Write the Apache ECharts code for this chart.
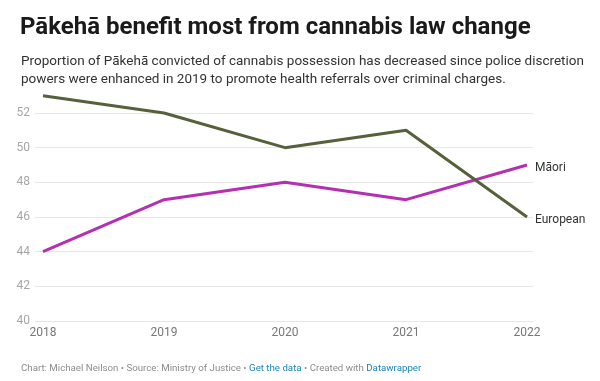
<!DOCTYPE html>
<html><head><meta charset="utf-8">
<script src="https://cdn.jsdelivr.net/npm/echarts@6/dist/echarts.min.js"></script>
<style>html,body{margin:0;padding:0;background:#fff}#c{width:600px;height:381px}</style>
</head><body><div id="c"></div>
<script>
const years = [2018, 2019, 2020, 2021, 2022];
const maori = [44, 47, 48, 47, 49];
const european = [53, 52, 50, 51, 46];
const yTicks = [40, 42, 44, 46, 48, 50, 52];
const seriesNames = ['Māori', 'European'];

const chart = echarts.init(document.getElementById('c'), null, {renderer: 'canvas'});
const font = 'Roboto, "Noto Sans", sans-serif';
const pair = (vals) => years.map((y, i) => [y, vals[i]]);
chart.setOption({
  animation: false,
  textStyle: {fontFamily: font},
  title: [
    {text: 'Pākehā benefit most from cannabis law change', left: 15, top: 11,
     textStyle: {fontFamily: font, fontSize: 24, fontWeight: 'bold', color: '#1a1a1a'}},
    {text: 'Proportion of Pākehā convicted of cannabis possession has decreased since police discretion\npowers were enhanced in 2019 to promote health referrals over criminal charges.',
     left: 16, top: 48,
     textStyle: {fontFamily: font, fontSize: 13.5, fontWeight: 'normal', color: '#333', lineHeight: 18}},
    {text: 'Chart: Michael Neilson • Source: Ministry of Justice • {a|Get the data} • Created with {a|Datawrapper}',
     left: 16, top: 359,
     textStyle: {fontFamily: font, fontSize: 9.7, fontWeight: 'normal', color: '#8c8c8c',
       rich: {a: {color: '#1d86b4', fontSize: 9.7, fontFamily: font}}}}
  ],
  grid: {left: 35, right: 67, top: 113, bottom: 60, containLabel: false},
  xAxis: {
    type: 'value', min: 2018 - 8 / 121, max: 2022 + 6 / 121,
    axisLine: {show: false}, axisTick: {show: false}, splitLine: {show: false},
    axisLabel: {customValues: years, color: '#777', fontSize: 12, margin: 6, fontFamily: font,
      formatter: v => String(Math.round(v))}
  },
  yAxis: {
    type: 'value', min: 40, max: 52, interval: 2,
    axisLine: {show: false}, axisTick: {show: false},
    splitLine: {lineStyle: {color: '#e6e6e6', width: 1}},
    axisLabel: {color: '#a6a6a6', fontSize: 12, margin: 5, fontFamily: font,
      customValues: yTicks}
  },
  series: [
    {name: seriesNames[0], type: 'line', data: pair(maori), clip: false, symbol: 'none',
     lineStyle: {color: '#b52fb1', width: 3}, itemStyle: {color: '#b52fb1'},
     endLabel: {show: true, formatter: p => p.seriesName, color: '#333', fontSize: 12, distance: 8, offset: [0, 3], fontFamily: font}},
    {name: seriesNames[1], type: 'line', data: pair(european), clip: false, symbol: 'none',
     lineStyle: {color: '#56603a', width: 3}, itemStyle: {color: '#56603a'},
     endLabel: {show: true, formatter: p => p.seriesName, color: '#333', fontSize: 12, distance: 8, offset: [0, 3], fontFamily: font}}
  ]
});
</script></body></html>
